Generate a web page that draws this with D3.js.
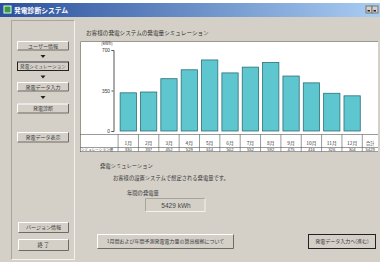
<!DOCTYPE html>
<html><head><meta charset="utf-8">
<script src="https://cdn.jsdelivr.net/npm/d3@7"></script>
<style>
html,body{margin:0;padding:0;background:#fff;}
svg{display:block;font-family:"Noto Sans CJK JP","Noto Sans",sans-serif;}
</style></head>
<body>
<svg id="c" width="380" height="262"></svg>
<script>
const months = ["1月","2月","3月","4月","5月","6月","7月","8月","9月","10月","11月","12月"];
const values = [330,337,452,529,614,502,552,592,475,416,326,304];
const yTicks = [0,350,700];
const rowLabel = "シミュレーション値";
const totalLabel = "合計";
const unitLabel = "(kWh)";
const windowTitle = "発電診断システム";
const chartTitle = "お客様の発電システムの発電量シミュレーション";
const navButtons = ["ユーザー情報","発電シミュレーション","発電データ入力","発電診断"];

const svg = d3.select("#c");
const defs = svg.append("defs");
const g1 = defs.append("linearGradient").attr("id","tb");
g1.append("stop").attr("offset","0").attr("stop-color","#2a509c");
g1.append("stop").attr("offset","1").attr("stop-color","#a9cdf2");

svg.append("rect").attr("x",0).attr("y",3).attr("width",380).attr("height",259).attr("fill","#d4d0c8");
svg.append("rect").attr("x",0).attr("y",3).attr("width",380).attr("height",14).attr("fill","url(#tb)");
svg.append("rect").attr("x",4).attr("y",6).attr("width",7).attr("height",7).attr("fill","#3c9a3c").attr("stroke","#dfe","stroke-width",0.6);
svg.append("text").attr("x",14).attr("y",13).attr("font-size",6.8).attr("font-weight","bold").attr("fill","#fff").text(windowTitle);
[366,372].forEach(x=>{
  svg.append("rect").attr("x",x).attr("y",6).attr("width",6).attr("height",7).attr("fill","#d4d0c8").attr("stroke","#777","stroke-width",0.4);
  svg.append("rect").attr("x",x+1.5).attr("y",10).attr("width",2.5).attr("height",1.5).attr("fill","#222");
});

function sunken(x,y,w,h){
  svg.append("path").attr("d",`M${x},${y+h}V${y}H${x+w}`).attr("fill","none").attr("stroke","#a8a59d").attr("stroke-width",1);
  svg.append("path").attr("d",`M${x},${y+h}H${x+w}V${y}`).attr("fill","none").attr("stroke","#f4f2ee").attr("stroke-width",1);
}
sunken(11.5,20.5,63,239);

function button(x,y,w,h,label,fs,selected){
  const g = svg.append("g");
  g.append("rect").attr("x",x).attr("y",y).attr("width",w).attr("height",h).attr("fill","#d4d0c8");
  g.append("path").attr("d",`M${x+0.5},${y+h-0.5}V${y+0.5}H${x+w-0.5}`).attr("fill","none").attr("stroke","#fff");
  g.append("path").attr("d",`M${x+0.5},${y+h-0.5}H${x+w-0.5}V${y+0.5}`).attr("fill","none").attr("stroke","#6e6b64");
  if(selected) g.append("rect").attr("x",x+0.5).attr("y",y+0.5).attr("width",w-1).attr("height",h-1).attr("fill","none").attr("stroke","#222").attr("stroke-width",1);
  g.append("text").attr("x",x+w/2).attr("y",y+h/2+1.8).attr("text-anchor","middle").attr("font-size",fs).attr("fill","#3a3a3a").text(label);
}
const navY = [41,61.5,82,103.5];
navButtons.forEach((t,i)=>{
  button(17,navY[i],52,i===3?10:9.5,t,i===1?4.6:5,i===1);
  if(i<3) svg.append("path").attr("d",`M40.5,${navY[i]+14}h5l-2.5,3z`).attr("fill","#222");
});
button(17,132,52,10.5,"発電データ表示",5,false);
button(18,222,51,11,"バージョン情報",5,false);
button(18,239,51,12,"終 了",5.3,false);

svg.append("text").attr("x",86).attr("y",35).attr("font-size",5.6).attr("fill","#333").text(chartTitle);

svg.append("rect").attr("x",80).attr("y",41).attr("width",298).attr("height",111).attr("fill","#fff");
svg.append("path").attr("d","M80.5,152V41.5H378").attr("fill","none").attr("stroke","#9a978f");

const x = d3.scaleBand().domain(months).range([118.1,362.3]).paddingInner(0.2).paddingOuter(0.1);
const y = d3.scaleLinear().domain([0,700]).range([131,50]);

const ax = svg.append("g").attr("transform","translate(113.5,0)")
  .call(d3.axisLeft(y).tickValues(yTicks).tickSize(2).tickPadding(1.5));
ax.select(".domain").attr("stroke","#555");
ax.selectAll("line").attr("stroke","#555");
ax.selectAll("text").attr("font-size",4.8).attr("fill","#333").attr("font-family","Liberation Sans, sans-serif");
svg.append("text").attr("x",107).attr("y",45).attr("text-anchor","middle").attr("font-size",4.2).attr("fill","#333").text(unitLabel);

svg.append("g").selectAll("rect").data(values).join("rect")
  .attr("x",(d,i)=>x(months[i])).attr("y",d=>y(d))
  .attr("width",x.bandwidth()).attr("height",d=>y(0)-y(d))
  .attr("fill","#5ec6cf").attr("stroke","#2e6f77").attr("stroke-width",0.8);

const step = x.step();
const tTop = 134.5, tMid = 147.5, tBot = 151.5;
const tg = svg.append("g").attr("stroke","#555").attr("stroke-width",0.6);
[tTop,tMid,tBot].forEach(v=>tg.append("line").attr("x1",80).attr("x2",378).attr("y1",v).attr("y2",v));
const dividers = d3.range(13).map(i=>118.1+i*step);
tg.selectAll("line.v").data(dividers).join("line").attr("class","v")
  .attr("x1",d=>d).attr("x2",d=>d).attr("y1",tTop).attr("y2",tBot);
const txt = svg.append("g").attr("font-size",4.8).attr("fill","#333").attr("text-anchor","middle");
months.forEach((m,i)=>{
  const cx = x(m)+x.bandwidth()/2;
  txt.append("text").attr("x",cx).attr("y",tMid-2.3).text(m);
  txt.append("text").attr("x",cx).attr("y",tBot-0.4).attr("font-size",4.2).attr("font-family","Liberation Sans, sans-serif").text(values[i]);
});
const totX = (362.3+378)/2;
txt.append("text").attr("x",totX).attr("y",tMid-3).attr("font-size",4.2).text(totalLabel);
txt.append("text").attr("x",totX).attr("y",tBot-0.4).attr("font-size",4.2).attr("font-family","Liberation Sans, sans-serif").text(d3.sum(values));
svg.append("text").attr("x",81).attr("y",tBot-0.4).attr("font-size",3.6).attr("fill","#333").text(rowLabel);

svg.append("text").attr("x",100).attr("y",168).attr("font-size",5.3).attr("fill","#333").text("発電シミュレーション");
svg.append("text").attr("x",113).attr("y",180).attr("font-size",5.3).attr("fill","#333").text("お客様の設置システムで想定される発電量です。");
svg.append("text").attr("x",127).attr("y",195).attr("font-size",5.3).attr("fill","#333").text("年間の発電量");
svg.append("rect").attr("x",145).attr("y",198.5).attr("width",60).attr("height",13).attr("fill","#d4d0c8");
sunken(145.5,198.5,59.5,13);
svg.append("text").attr("x",176).attr("y",208).attr("text-anchor","middle").attr("font-size",6.5).attr("fill","#444").attr("font-family","Liberation Sans, sans-serif").text(d3.sum(values)+" kWh");

button(97,234,137,15,"1月間および年間予測発電電力量の算出根拠について",5,false);
button(308,234,68,15,"発電データ入力へ(進む)",5,true);
</script>
</body></html>
